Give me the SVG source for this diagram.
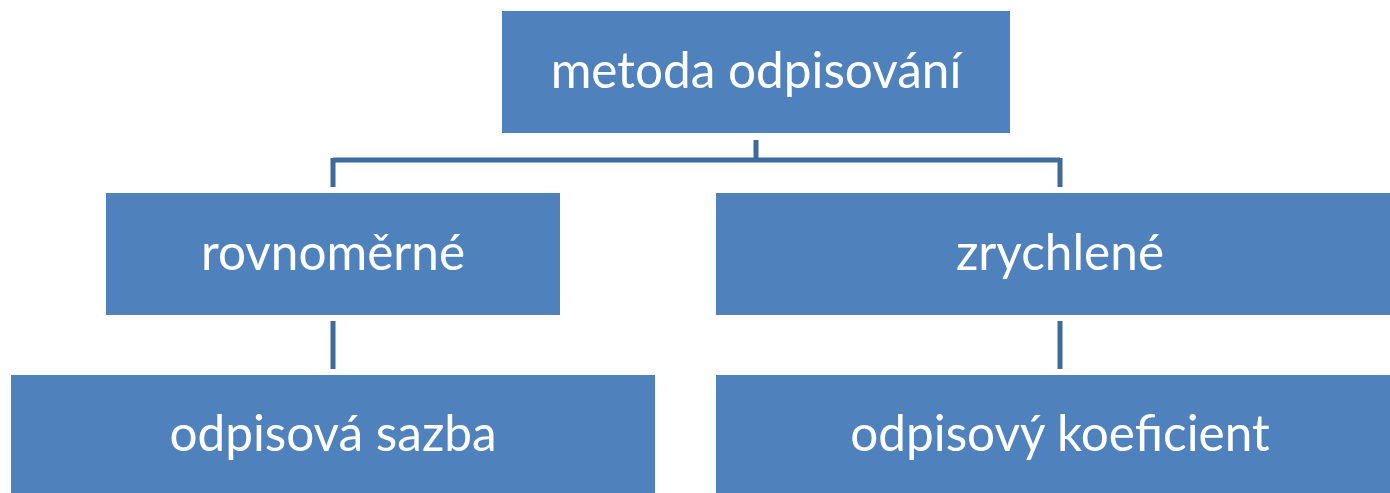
<svg xmlns="http://www.w3.org/2000/svg" width="1390" height="493" viewBox="0 0 1390 493">
<style>
.box{fill:#4F81BD;}
.lbl{fill:#FFFFFF;font-family:Lato,"Open Sans","Liberation Sans",sans-serif;font-size:49.5px;text-anchor:middle;}
.conn{stroke:#3E6A9C;stroke-width:5;fill:none;}
</style>
<rect width="1390" height="493" fill="#FFFFFF"/>
<g id="connectors">
<path class="conn" d="M756 140 V160 M333 160 H1060 M333 158 V187 M1060 158 V187"/>
<path class="conn" d="M333 321 V369"/>
<path class="conn" d="M1060 321 V369"/>
</g>
<g id="node-metoda">
<rect class="box" x="502" y="11" width="508" height="122"/>
<text class="lbl" x="756" y="88">metoda odpisování</text>
</g>
<g id="node-rovnomerne">
<rect class="box" x="106" y="193" width="454" height="122"/>
<text class="lbl" x="333" y="270">rovnoměrné</text>
</g>
<g id="node-zrychlene">
<rect class="box" x="716" y="193" width="688" height="122"/>
<text class="lbl" x="1060" y="270">zrychlené</text>
</g>
<g id="node-sazba">
<rect class="box" x="11" y="375" width="644" height="122"/>
<text class="lbl" x="333" y="451">odpisová sazba</text>
</g>
<g id="node-koeficient">
<rect class="box" x="716" y="375" width="688" height="122"/>
<text class="lbl" x="1060" y="451">odpisový koeficient</text>
</g>
</svg>
